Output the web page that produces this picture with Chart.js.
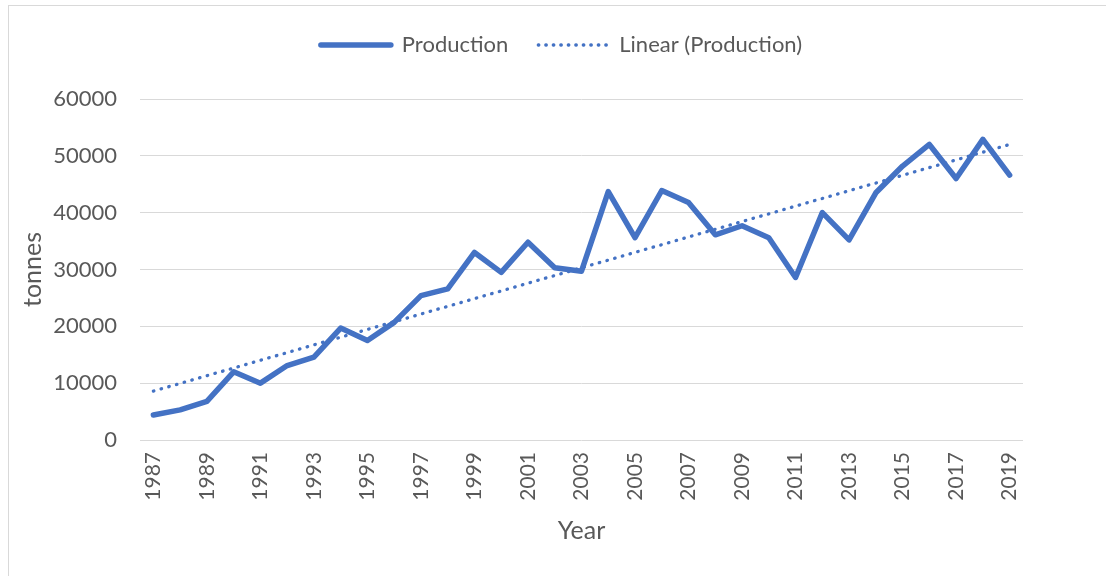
<!DOCTYPE html>
<html>
<head>
<meta charset="utf-8">
<script src="https://cdn.jsdelivr.net/npm/chart.js@4.4.1/dist/chart.umd.min.js"></script>
<style>
  html, body { margin: 0; padding: 0; background: #fff; }
  #wrap { position: relative; width: 1106px; height: 576px; overflow: hidden; }
  #frame { position: absolute; left: 8px; top: 5px; width: 1200px; height: 700px; border: 1px solid #d9d9d9; }
  #lineChart { position: absolute; left: 0; top: 0; }
</style>
</head>
<body>
<div id="wrap">
  <div id="frame"></div>
  <canvas id="lineChart" width="1106" height="576"></canvas>
</div>
<script>
// years on the x axis
const years = ['1987','1988','1989','1990','1991','1992','1993','1994','1995','1996','1997',
  '1998','1999','2000','2001','2002','2003','2004','2005','2006','2007','2008',
  '2009','2010','2011','2012','2013','2014','2015','2016','2017','2018','2019'];

// production in tonnes
const production = [4400, 5300, 6800, 12000, 10000, 13100, 14600, 19700, 17500, 20700, 25400,
  26600, 33000, 29500, 34800, 30300, 29700, 43700, 35600, 43900, 41800, 36100,
  37700, 35600, 28600, 40000, 35200, 43500, 48200, 52000, 46000, 52900, 46600];

// linear trend end values
const trendStart = 8600;
const trendEnd = 52000;

const yTicks = [0, 10000, 20000, 30000, 40000, 50000, 60000];

const blue = '#4472C4';
const grey = '#595959';
const font = 'Lato';

let trend = years.map((y, i) => i === 0 ? trendStart : (i === years.length - 1 ? trendEnd : null));

// push the plot down below the legend and centre the legend like the original
const legendTweak = {
  id: 'legendTweak',
  beforeUpdate(chart) {
    if (chart.legend && !chart.legend._patched) {
      const orig = chart.legend.fit;
      chart.legend.fit = function () {
        orig.call(this);
        this.height += 33;
      };
      chart.legend._patched = true;
    }
  },
  afterLayout(chart) {
    chart.legend.left += 46;
    chart.legend.right += 46;
  }
};

let testChart = new Chart(document.getElementById('lineChart'), {
  type: 'line',
  data: {
    labels: years,
    datasets: [
      {
        label: 'Production',
        data: production,
        borderColor: blue,
        backgroundColor: blue,
        borderWidth: 5.5,
        borderCapStyle: 'round',
        borderJoinStyle: 'round',
        pointRadius: 0,
        pointStyle: 'line',
        fill: false,
        tension: 0
      },
      {
        label: 'Linear (Production)',
        data: trend,
        spanGaps: true,
        borderColor: blue,
        backgroundColor: blue,
        borderWidth: 3.3,
        borderDash: [0.5, 7.5],
        borderCapStyle: 'round',
        pointRadius: 0,
        pointStyle: 'line',
        fill: false
      }
    ]
  },
  options: {
    responsive: false,
    animation: false,
    layout: { padding: { left: 8, right: 83, top: 4, bottom: 30 } },
    plugins: {
      legend: {
        position: 'top',
        labels: {
          usePointStyle: true,
          pointStyleWidth: 70,
          padding: 30,
          color: grey,
          font: { family: font, size: 22 },
          generateLabels(chart) {
            return chart.data.datasets.map((ds, i) => ({
              text: ds.label,
              datasetIndex: i,
              fillStyle: ds.borderColor,
              strokeStyle: ds.borderColor,
              fontColor: grey,
              lineWidth: i === 0 ? 5.5 : 3.3,
              lineDash: i === 0 ? [] : [0.5, 7],
              lineCap: 'round',
              pointStyle: 'line',
              hidden: false
            }));
          }
        }
      },
      tooltip: { enabled: false }
    },
    scales: {
      x: {
        offset: true,
        grid: { display: false, drawTicks: false },
        border: { display: false },
        afterFit(scale) { scale.height = 106; },
        ticks: {
          autoSkip: false,
          maxRotation: 90,
          minRotation: 90,
          padding: 12,
          color: grey,
          font: { family: font, size: 21 },
          callback: function (val, i) { return i % 2 === 0 ? years[i] : ''; }
        },
        title: {
          display: true,
          text: 'Year',
          color: grey,
          padding: 0,
          font: { family: font, size: 25 }
        }
      },
      y: {
        min: 0,
        max: 60000,
        afterFit(scale) { scale.width = 132; },
        afterBuildTicks(scale) { scale.ticks = yTicks.map(v => ({ value: v })); },
        grid: { color: '#d9d9d9', lineWidth: 1, drawTicks: false },
        border: { display: false },
        ticks: {
          padding: 23,
          color: grey,
          font: { family: font, size: 22 },
          callback: function (val) { return String(val); }
        },
        title: {
          display: true,
          text: 'tonnes',
          color: grey,
          padding: { top: 10, bottom: 0 },
          font: { family: font, size: 25 }
        }
      }
    }
  },
  plugins: [legendTweak]
});
</script>
</body>
</html>
